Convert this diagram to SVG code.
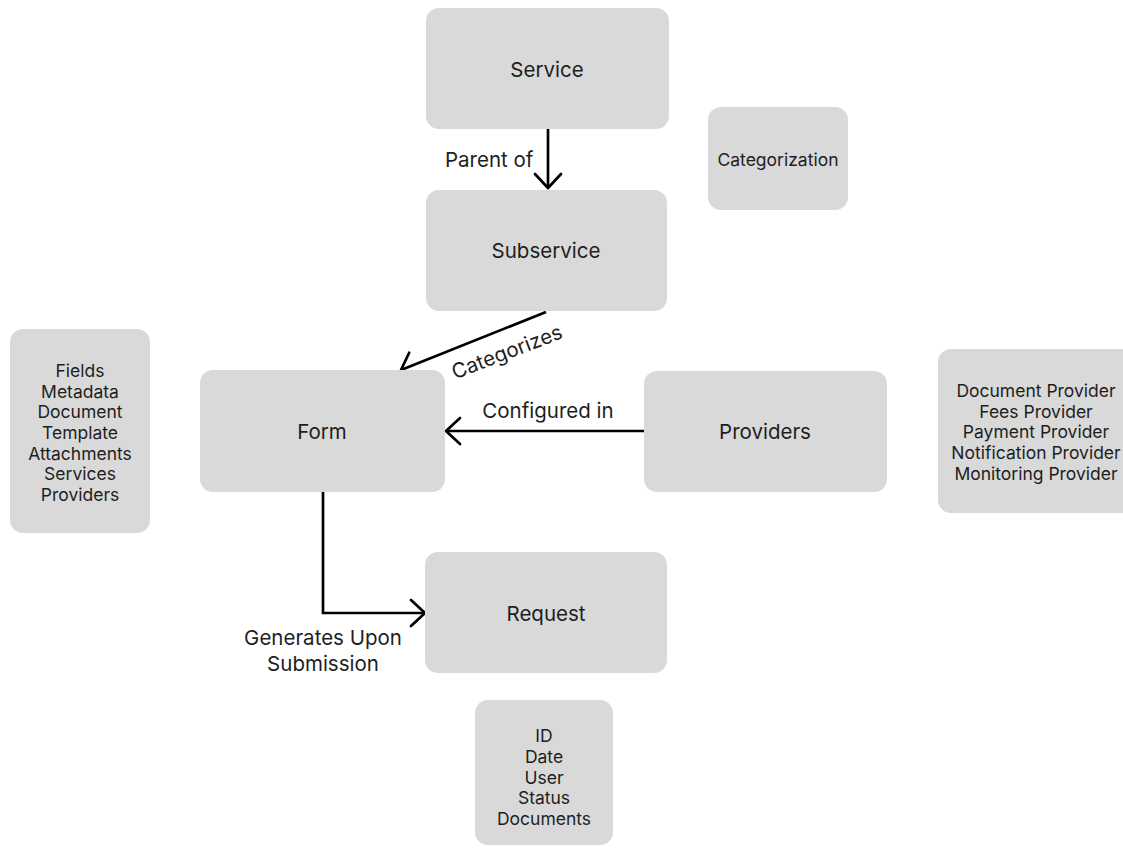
<svg xmlns="http://www.w3.org/2000/svg" width="1123" height="848" viewBox="0 0 1123 848">
  <defs>
    <!-- open chevron arrowhead shared by all connectors -->
    <marker id="open-arrow" viewBox="-17 -16 20 32" refX="0" refY="0" markerWidth="20" markerHeight="32" markerUnits="userSpaceOnUse" orient="auto">
      <path d="M-14 -13 L0 0 L-14 13" fill="none" stroke="#000" stroke-width="2.7" stroke-linecap="round" stroke-linejoin="round"/>
    </marker>
  </defs>
  <style>
    .box { fill: #d9d9d9; }
    .label { font-family: Inter, "Liberation Sans", sans-serif; font-size: 20.5px; fill: #1e1e1e; text-anchor: middle; dominant-baseline: central; }
    .list { font-family: Inter, "Liberation Sans", sans-serif; font-size: 17.5px; fill: #1e1e1e; text-anchor: middle; }
    .edge { fill: none; stroke: #000; stroke-width: 2.7; marker-end: url(#open-arrow); }
    .edge-label { font-family: Inter, "Liberation Sans", sans-serif; font-size: 20.5px; fill: #1e1e1e; }
  </style>
  <rect width="1123" height="848" fill="#fff"/>

  <g id="connectors">
    <path class="edge" d="M548 129 L548 188"/>
    <path class="edge" d="M546 312 L401 370"/>
    <path class="edge" d="M644 431 L446 431"/>
    <path class="edge" d="M323 492 L323 613 L425 613"/>
    <text class="edge-label" x="445" y="167">Parent of</text>
    <text class="edge-label" x="507" y="359" text-anchor="middle" transform="rotate(-21 507 352)">Categorizes</text>
    <text class="edge-label" x="548" y="418" text-anchor="middle">Configured in</text>
    <text class="edge-label" x="323" y="645" text-anchor="middle">Generates Upon</text>
    <text class="edge-label" x="323" y="671" text-anchor="middle">Submission</text>
  </g>

  <g id="service">
    <rect class="box" x="426" y="8" width="243" height="121" rx="13"/>
    <text class="label" x="547" y="69">Service</text>
  </g>

  <g id="subservice">
    <rect class="box" x="426" y="190" width="241" height="121" rx="13"/>
    <text class="label" x="546" y="250">Subservice</text>
  </g>

  <g id="categorization">
    <rect class="box" x="708" y="107" width="140" height="103" rx="13"/>
    <text class="label" x="778" y="159" style="font-size:17.5px">Categorization</text>
  </g>

  <g id="form-details">
    <rect class="box" x="10" y="329" width="140" height="204" rx="13"/>
    <text class="list" x="80" y="377">Fields</text>
    <text class="list" x="80" y="398">Metadata</text>
    <text class="list" x="80" y="418">Document</text>
    <text class="list" x="80" y="439">Template</text>
    <text class="list" x="80" y="460">Attachments</text>
    <text class="list" x="80" y="480">Services</text>
    <text class="list" x="80" y="501">Providers</text>
  </g>

  <g id="form">
    <rect class="box" x="200" y="370" width="245" height="122" rx="13"/>
    <text class="label" x="322" y="431">Form</text>
  </g>

  <g id="providers">
    <rect class="box" x="644" y="371" width="243" height="121" rx="13"/>
    <text class="label" x="765" y="431">Providers</text>
  </g>

  <g id="provider-types">
    <rect class="box" x="938" y="349" width="200" height="164" rx="13"/>
    <text class="list" x="1036" y="397">Document Provider</text>
    <text class="list" x="1036" y="418">Fees Provider</text>
    <text class="list" x="1036" y="438">Payment Provider</text>
    <text class="list" x="1036" y="459">Notification Provider</text>
    <text class="list" x="1036" y="480">Monitoring Provider</text>
  </g>

  <g id="request">
    <rect class="box" x="425" y="552" width="242" height="121" rx="13"/>
    <text class="label" x="546" y="613">Request</text>
  </g>

  <g id="request-details">
    <rect class="box" x="475" y="700" width="138" height="145" rx="13"/>
    <text class="list" x="544" y="742">ID</text>
    <text class="list" x="544" y="763">Date</text>
    <text class="list" x="544" y="784">User</text>
    <text class="list" x="544" y="804">Status</text>
    <text class="list" x="544" y="825">Documents</text>
  </g>
</svg>
